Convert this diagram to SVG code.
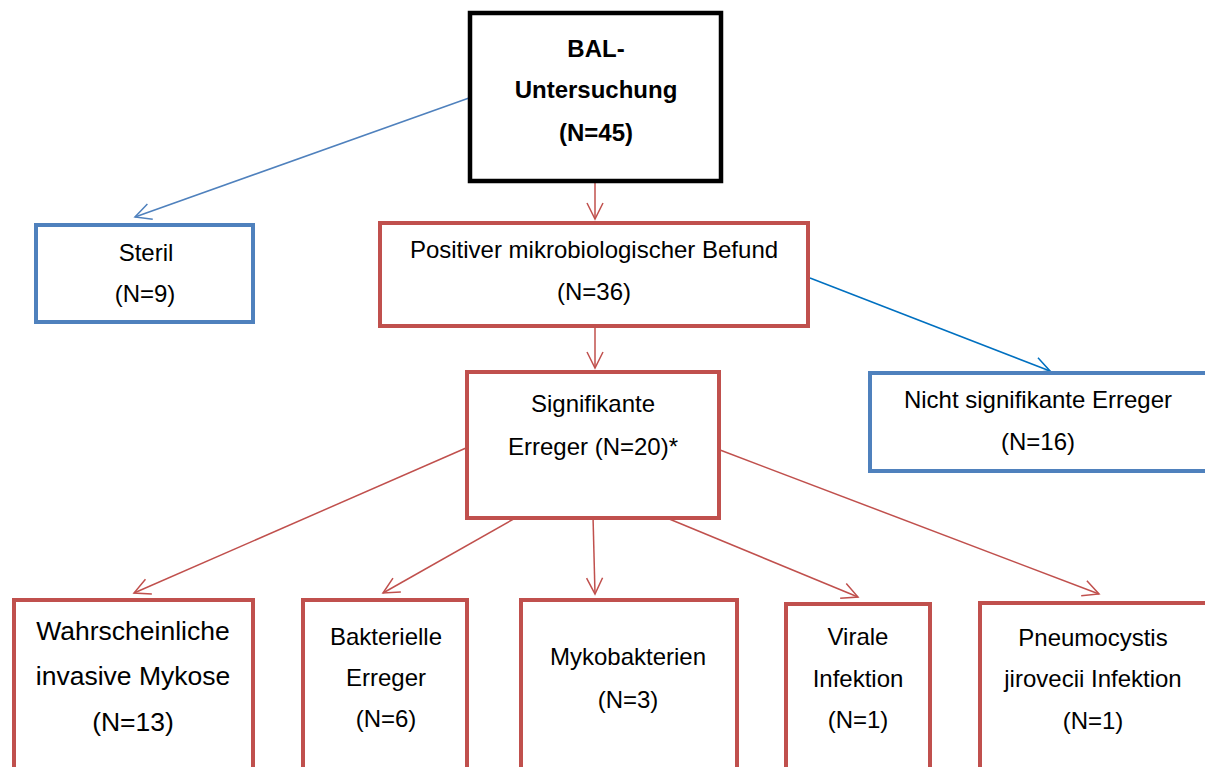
<svg xmlns="http://www.w3.org/2000/svg" width="1205" height="767" viewBox="0 0 1205 767">
<style>
.t{font-family:"Liberation Sans",Arial,sans-serif;font-size:24px;fill:#000;text-anchor:middle}
.b{font-weight:bold;font-size:24px}
.lg{font-size:26.5px}
.red{fill:#fff;stroke:#c0504d;stroke-width:4}
.blue{fill:#fff;stroke:#4f81bd;stroke-width:4}
.blk{fill:#fff;stroke:#000;stroke-width:4.5}
.cr{stroke:#c0504d;stroke-width:1.5;fill:none}
.cb{stroke:#4f81bd;stroke-width:1.5;fill:none}
.cb2{stroke:#0070c0;stroke-width:1.5;fill:none}
</style>
<defs>
<marker id="ar" viewBox="0 0 20 20" refX="18" refY="10" markerWidth="20" markerHeight="20" markerUnits="userSpaceOnUse" orient="auto"><polyline points="2,2 18,10 2,18" fill="none" stroke="#c0504d" stroke-width="1.5"/></marker>
<marker id="ab" viewBox="0 0 20 20" refX="18" refY="10" markerWidth="20" markerHeight="20" markerUnits="userSpaceOnUse" orient="auto"><polyline points="2,2 18,10 2,18" fill="none" stroke="#4f81bd" stroke-width="1.5"/></marker>
<marker id="ab2" viewBox="0 0 20 20" refX="18" refY="10" markerWidth="20" markerHeight="20" markerUnits="userSpaceOnUse" orient="auto"><polyline points="2,2 18,10 2,18" fill="none" stroke="#0070c0" stroke-width="1.5"/></marker>
</defs>
<rect width="1205" height="767" fill="#fff"/>
<g id="connectors">
<line class="cb" x1="469" y1="98" x2="135" y2="217" marker-end="url(#ab)"/>
<line class="cr" x1="595" y1="183" x2="595" y2="219" marker-end="url(#ar)"/>
<line class="cr" x1="595" y1="327" x2="595" y2="368" marker-end="url(#ar)"/>
<line class="cb2" x1="810" y1="278" x2="1050" y2="371" marker-end="url(#ab2)"/>
<line class="cr" x1="466" y1="448" x2="134" y2="593" marker-end="url(#ar)"/>
<line class="cr" x1="519" y1="516" x2="383" y2="593" marker-end="url(#ar)"/>
<line class="cr" x1="593" y1="516" x2="595" y2="594" marker-end="url(#ar)"/>
<line class="cr" x1="662" y1="516" x2="858" y2="597" marker-end="url(#ar)"/>
<line class="cr" x1="720" y1="450" x2="1099" y2="594" marker-end="url(#ar)"/>
</g>
<g id="bal">
<rect class="blk" x="470" y="13" width="251" height="168"/>
<text class="t b" x="596" y="57">BAL-</text>
<text class="t b" x="596" y="98">Untersuchung</text>
<text class="t b" x="596" y="141">(N=45)</text>
</g>
<g id="steril">
<rect class="blue" x="36" y="225" width="217" height="97"/>
<text class="t" x="146" y="261">Steril</text>
<text class="t" x="145" y="302">(N=9)</text>
</g>
<g id="positiv">
<rect class="red" x="380" y="223" width="428" height="103"/>
<text class="t" x="594" y="258">Positiver mikrobiologischer Befund</text>
<text class="t" x="594" y="300">(N=36)</text>
</g>
<g id="signifikant">
<rect class="red" x="467" y="372" width="252" height="146"/>
<text class="t" x="593" y="412">Signifikante</text>
<text class="t" x="593" y="455">Erreger (N=20)*</text>
</g>
<g id="nichtsignifikant">
<rect class="blue" x="870" y="373" width="337" height="98"/>
<text class="t" x="1038" y="408">Nicht signifikante Erreger</text>
<text class="t" x="1038" y="450">(N=16)</text>
</g>
<g id="mykose">
<rect class="red" x="14" y="600" width="239" height="172"/>
<text class="t lg" x="133" y="640">Wahrscheinliche</text>
<text class="t lg" x="133" y="685">invasive Mykose</text>
<text class="t lg" x="133" y="731">(N=13)</text>
</g>
<g id="bakterien">
<rect class="red" x="303" y="600" width="164" height="172"/>
<text class="t" x="386" y="645">Bakterielle</text>
<text class="t" x="386" y="686">Erreger</text>
<text class="t" x="386" y="727">(N=6)</text>
</g>
<g id="mykobakterien">
<rect class="red" x="521" y="600" width="216" height="172"/>
<text class="t" x="628" y="665">Mykobakterien</text>
<text class="t" x="628" y="708">(N=3)</text>
</g>
<g id="viral">
<rect class="red" x="786" y="604" width="144" height="168"/>
<text class="t" x="858" y="645">Virale</text>
<text class="t" x="858" y="687">Infektion</text>
<text class="t" x="858" y="728">(N=1)</text>
</g>
<g id="pneumocystis">
<rect class="red" x="980" y="603" width="230" height="170"/>
<text class="t" x="1093" y="646">Pneumocystis</text>
<text class="t" x="1093" y="687">jirovecii Infektion</text>
<text class="t" x="1093" y="729">(N=1)</text>
</g>
</svg>
